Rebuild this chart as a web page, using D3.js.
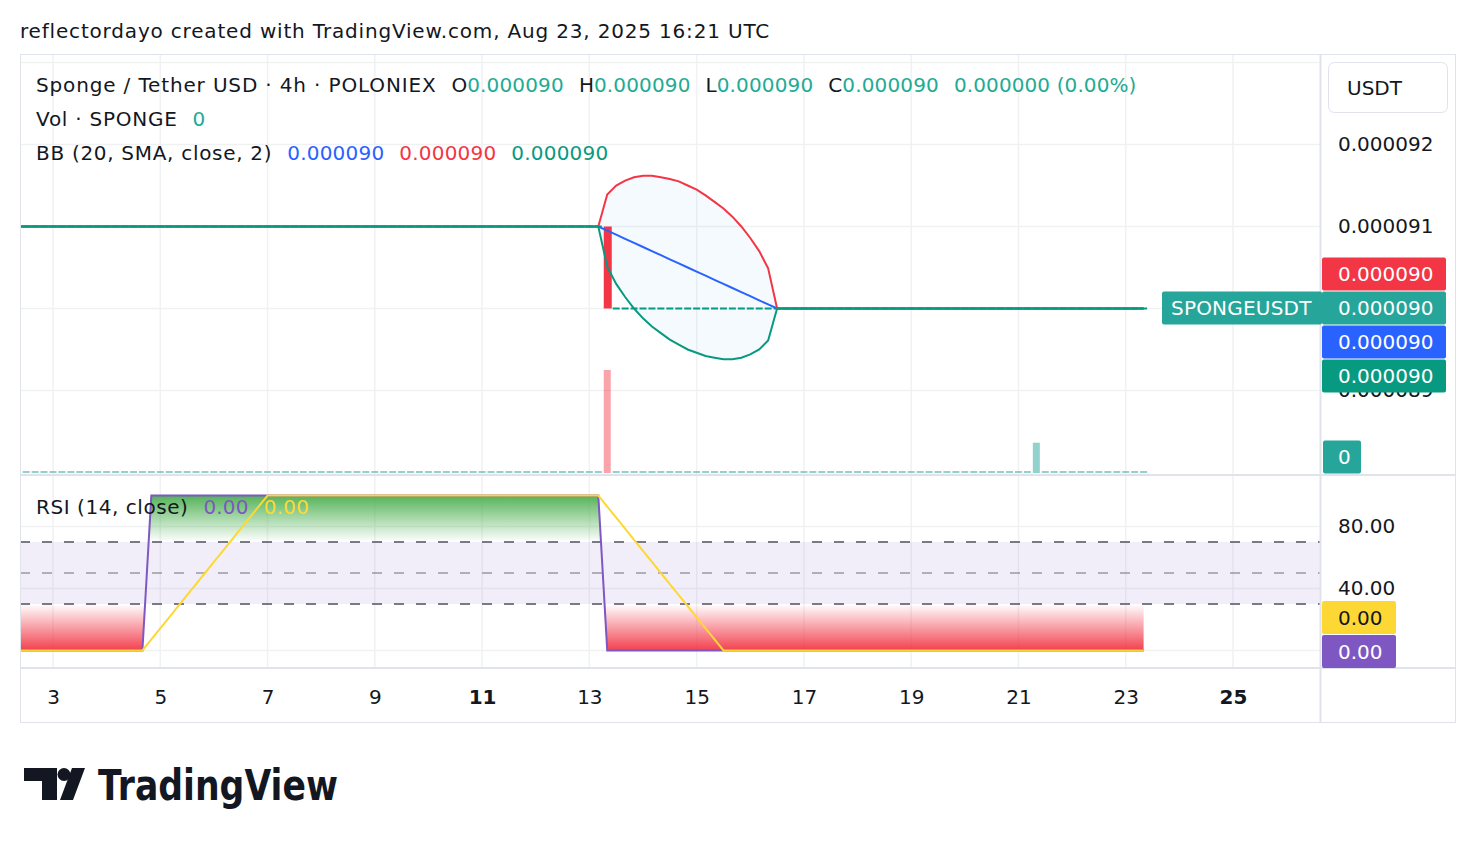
<!DOCTYPE html>
<html><head><meta charset="utf-8">
<script src="https://cdn.jsdelivr.net/npm/d3@7"></script>
<style>
body{margin:0;background:#fff}
svg{display:block}
text{font-family:"DejaVu Sans",sans-serif;}
</style>
</head><body>
<svg id="c" width="1476" height="844"></svg>
<script>
// ---------------- DATA ----------------
// 4h bars from 2025-08-02 00:00 UTC to 2025-08-23 08:00 UTC (129 bars)
const barStart = "2025-08-02T00:00:00Z";
const barEndExclusive = "2025-08-23T12:00:00Z";
const PRICE_UNIT = 1e-6; // prices below are in micro-USDT

// open prices, one row per day (6 bars / day)
const openPx = [
  91,91,91,91,91,91, // Aug 2
  91,91,91,91,91,91, // Aug 3
  91,91,91,91,91,91, // Aug 4
  91,91,91,91,91,91, // Aug 5
  91,91,91,91,91,91, // Aug 6
  91,91,91,91,91,91, // Aug 7
  91,91,91,91,91,91, // Aug 8
  91,91,91,91,91,91, // Aug 9
  91,91,91,91,91,91, // Aug 10
  91,91,91,91,91,91, // Aug 11
  91,91,91,91,91,91, // Aug 12
  91,91,91,90,90,90, // Aug 13
  90,90,90,90,90,90, // Aug 14
  90,90,90,90,90,90, // Aug 15
  90,90,90,90,90,90, // Aug 16
  90,90,90,90,90,90, // Aug 17
  90,90,90,90,90,90, // Aug 18
  90,90,90,90,90,90, // Aug 19
  90,90,90,90,90,90, // Aug 20
  90,90,90,90,90,90, // Aug 21
  90,90,90,90,90,90, // Aug 22
  90,90,90           // Aug 23
];
const closePx = [
  91,91,91,91,91,91, // Aug 2
  91,91,91,91,91,91, // Aug 3
  91,91,91,91,91,91, // Aug 4
  91,91,91,91,91,91, // Aug 5
  91,91,91,91,91,91, // Aug 6
  91,91,91,91,91,91, // Aug 7
  91,91,91,91,91,91, // Aug 8
  91,91,91,91,91,91, // Aug 9
  91,91,91,91,91,91, // Aug 10
  91,91,91,91,91,91, // Aug 11
  91,91,91,91,91,91, // Aug 12
  91,91,90,90,90,90, // Aug 13
  90,90,90,90,90,90, // Aug 14
  90,90,90,90,90,90, // Aug 15
  90,90,90,90,90,90, // Aug 16
  90,90,90,90,90,90, // Aug 17
  90,90,90,90,90,90, // Aug 18
  90,90,90,90,90,90, // Aug 19
  90,90,90,90,90,90, // Aug 20
  90,90,90,90,90,90, // Aug 21
  90,90,90,90,90,90, // Aug 22
  90,90,90           // Aug 23
];
const volume = [
  0,0,0,0,0,0, 0,0,0,0,0,0, 0,0,0,0,0,0, 0,0,0,0,0,0, 0,0,0,0,0,0, 0,0,0,0,0,0,
  0,0,0,0,0,0, 0,0,0,0,0,0, 0,0,0,0,0,0, 0,0,0,0,0,0, 0,0,0,0,0,0,
  0,0,3400,0,0,0, // Aug 13
  0,0,0,0,0,0, 0,0,0,0,0,0, 0,0,0,0,0,0, 0,0,0,0,0,0, 0,0,0,0,0,0, 0,0,0,0,0,0, 0,0,0,0,0,0,
  0,0,1000,0,0,0, // Aug 21
  0,0,0,0,0,0,    // Aug 22
  0,0,0           // Aug 23
];
const bbUpper = [
  91,91,91,91,91,91, 91,91,91,91,91,91, 91,91,91,91,91,91, 91,91,91,91,91,91,
  91,91,91,91,91,91, 91,91,91,91,91,91, 91,91,91,91,91,91, 91,91,91,91,91,91,
  91,91,91,91,91,91, 91,91,91,91,91,91, 91,91,91,91,91,91,
  91,91,91.39,91.5,91.56,91.6,        // Aug 13
  91.62,91.62,91.6,91.58,91.55,91.5,  // Aug 14
  91.45,91.38,91.3,91.22,91.12,91.0,  // Aug 15
  90.86,90.7,90.49,90,90,90,          // Aug 16
  90,90,90,90,90,90, 90,90,90,90,90,90, 90,90,90,90,90,90,
  90,90,90,90,90,90, 90,90,90,90,90,90, 90,90,90,90,90,90,
  90,90,90
];
const bbBasis = [
  91,91,91,91,91,91, 91,91,91,91,91,91, 91,91,91,91,91,91, 91,91,91,91,91,91,
  91,91,91,91,91,91, 91,91,91,91,91,91, 91,91,91,91,91,91, 91,91,91,91,91,91,
  91,91,91,91,91,91, 91,91,91,91,91,91, 91,91,91,91,91,91,
  91,91,90.95,90.9,90.85,90.8,        // Aug 13
  90.75,90.7,90.65,90.6,90.55,90.5,   // Aug 14
  90.45,90.4,90.35,90.3,90.25,90.2,   // Aug 15
  90.15,90.1,90.05,90,90,90,          // Aug 16
  90,90,90,90,90,90, 90,90,90,90,90,90, 90,90,90,90,90,90,
  90,90,90,90,90,90, 90,90,90,90,90,90, 90,90,90,90,90,90,
  90,90,90
];
const bbLower = [
  91,91,91,91,91,91, 91,91,91,91,91,91, 91,91,91,91,91,91, 91,91,91,91,91,91,
  91,91,91,91,91,91, 91,91,91,91,91,91, 91,91,91,91,91,91, 91,91,91,91,91,91,
  91,91,91,91,91,91, 91,91,91,91,91,91, 91,91,91,91,91,91,
  91,91,90.51,90.3,90.14,90.0,        // Aug 13
  89.88,89.78,89.7,89.62,89.56,89.5,  // Aug 14
  89.46,89.42,89.4,89.38,89.38,89.4,  // Aug 15
  89.44,89.5,89.61,90,90,90,          // Aug 16
  90,90,90,90,90,90, 90,90,90,90,90,90, 90,90,90,90,90,90,
  90,90,90,90,90,90, 90,90,90,90,90,90, 90,90,90,90,90,90,
  90,90,90
];
const rsi = [
  0,0,0,0,0,0,        // Aug 2
  0,0,0,0,0,0,        // Aug 3
  0,0,0,0,0,100,      // Aug 4
  100,100,100,100,100,100, 100,100,100,100,100,100, 100,100,100,100,100,100,
  100,100,100,100,100,100, 100,100,100,100,100,100, 100,100,100,100,100,100,
  100,100,100,100,100,100, 100,100,100,100,100,100, // Aug 5 - Aug 12
  100,100,0,0,0,0,    // Aug 13
  0,0,0,0,0,0, 0,0,0,0,0,0, 0,0,0,0,0,0, 0,0,0,0,0,0, 0,0,0,0,0,0,
  0,0,0,0,0,0, 0,0,0,0,0,0, 0,0,0,0,0,0, 0,0,0,0,0,0, // Aug 14 - Aug 22
  0,0,0               // Aug 23
];
const rsiMa = [
  0,0,0,0,0,0,                            // Aug 2
  0,0,0,0,0,0,                            // Aug 3
  0,0,0,0,0,7.14,                         // Aug 4
  14.29,21.43,28.57,35.71,42.86,50,       // Aug 5
  57.14,64.29,71.43,78.57,85.71,92.86,    // Aug 6
  100,100,100,100,100,100, 100,100,100,100,100,100, 100,100,100,100,100,100,
  100,100,100,100,100,100, 100,100,100,100,100,100, 100,100,100,100,100,100, // Aug 7 - 12
  100,100,92.86,85.71,78.57,71.43,        // Aug 13
  64.29,57.14,50,42.86,35.71,28.57,       // Aug 14
  21.43,14.29,7.14,0,0,0,                 // Aug 15
  0,0,0,0,0,0, 0,0,0,0,0,0, 0,0,0,0,0,0, 0,0,0,0,0,0,
  0,0,0,0,0,0, 0,0,0,0,0,0, 0,0,0,0,0,0, // Aug 16 - 22
  0,0,0                                   // Aug 23
];

const priceGridTicks = [89, 90, 91, 92, 93];
const priceLabelTicks = [89, 90, 91, 92];
const rsiTicks = [0, 40, 80];
const rsiLevels = {upper: 70, middle: 50, lower: 30};
const dayTicks = [3, 5, 7, 9, 11, 13, 15, 17, 19, 21, 23, 25];
const boldDays = [11, 25];

const headerText = "reflectordayo created with TradingView.com, Aug 23, 2025 16:21 UTC";
const symbolTitle = "Sponge / Tether USD · 4h · POLONIEX";
const ohlcLabels = ["O", "H", "L", "C"];
const ohlcValues = ["0.000090", "0.000090", "0.000090", "0.000090"];
const changeText = "0.000000 (0.00%)";
const volTitle = "Vol · SPONGE";
const volValue = "0";
const bbTitle = "BB (20, SMA, close, 2)";
const bbValues = ["0.000090", "0.000090", "0.000090"];
const rsiTitle = "RSI (14, close)";
const rsiValues = ["0.00", "0.00"];
const symbolTag = "SPONGEUSDT";
const currency = "USDT";

// ---------------- LAYOUT ----------------
const svg = d3.select("#c");
const L = 20, R = 1320, OUTR = 1456;
const MAIN_T = 54, MAIN_B = 474, RSI_T = 475, RSI_B = 668, TAX_B = 722;
const TXT = "#131722";
const C_TEAL = "#089981", C_TEAL2 = "#22AB94", C_TAG = "#26A69A";
const C_RED = "#F23645", C_BLUE = "#2962FF", C_PURPLE = "#7E57C2", C_YEL = "#FDD835";
const GRID = "#f0f1f3", BORDER = "#e0e3eb";
const FS = 20;
const LS = 0.75; // letter spacing for word labels

const times = d3.utcHour.every(4).range(new Date(barStart), new Date(barEndExclusive));
const bars = times.map((t, i) => ({t, o: openPx[i], c: closePx[i], v: volume[i],
  up: bbUpper[i], mid: bbBasis[i], lo: bbLower[i], rsi: rsi[i], ma: rsiMa[i]}));

const x = d3.scaleUtc()
  .domain([new Date("2025-08-03T00:00:00Z"), new Date("2025-08-25T00:00:00Z")])
  .range([53, 1233]);
const yP = d3.scaleLinear().domain([88, 93]).range([472.5, 62.5]);
const yV = d3.scaleLinear().domain([0, 3400]).range([473, 370]);
const yR = d3.scaleLinear().domain([0, 100]).range([650.5, 495.5]);
const dayDates = dayTicks.map(d => new Date(Date.UTC(2025, 7, d)));
const fmtPrice = v => (v * PRICE_UNIT).toFixed(6);

const defs = svg.append("defs");
defs.append("clipPath").attr("id", "clipMain").append("rect")
  .attr("x", L).attr("y", MAIN_T + 1).attr("width", R - L).attr("height", MAIN_B - MAIN_T - 1);
defs.append("clipPath").attr("id", "clipRsi").append("rect")
  .attr("x", L).attr("y", RSI_T + 1).attr("width", R - L).attr("height", RSI_B - RSI_T - 1);

// header
svg.append("text").attr("x", 20).attr("y", 31).attr("dy", "0.35em")
  .attr("font-size", FS).attr("fill", TXT).attr("letter-spacing", 0.82).text(headerText);

// ---------------- GRID ----------------
const grid = svg.append("g");
dayDates.forEach(d => {
  grid.append("line").attr("x1", x(d)).attr("x2", x(d)).attr("y1", MAIN_T).attr("y2", RSI_B)
    .attr("stroke", GRID).attr("stroke-width", 1.5);
});
priceGridTicks.forEach(v => {
  grid.append("line").attr("x1", L).attr("x2", R).attr("y1", yP(v)).attr("y2", yP(v))
    .attr("stroke", GRID).attr("stroke-width", 1.5);
});
rsiTicks.forEach(v => {
  grid.append("line").attr("x1", L).attr("x2", R).attr("y1", yR(v)).attr("y2", yR(v))
    .attr("stroke", GRID).attr("stroke-width", 1.5);
});

// ---------------- MAIN PANE ----------------
const main = svg.append("g").attr("clip-path", "url(#clipMain)");
const BW = 7;
// volume
main.append("g").selectAll("rect").data(bars).join("rect")
  .attr("x", d => x(d.t) - BW / 2)
  .attr("width", BW)
  .attr("y", d => d.v === 0 ? yV(0) - 2 : yV(d.v))
  .attr("height", d => d.v === 0 ? 2 : yV(0) - yV(d.v))
  .attr("fill", d => d.c < d.o ? "rgba(242,54,69,0.45)" : "rgba(38,166,154,0.5)");
// BB fill
main.append("path").datum(bars)
  .attr("d", d3.area().x(d => x(d.t)).y0(d => yP(d.lo)).y1(d => yP(d.up)))
  .attr("fill", "rgba(33,150,243,0.05)");
// candles
main.append("g").selectAll("rect").data(bars).join("rect")
  .attr("x", d => x(d.t) - BW / 2)
  .attr("width", d => d.o === d.c ? BW : BW + 1)
  .attr("y", d => d.o === d.c ? yP(d.c) - 1 : yP(Math.max(d.o, d.c)))
  .attr("height", d => d.o === d.c ? 2 : Math.abs(yP(d.o) - yP(d.c)))
  .attr("fill", d => d.c < d.o ? C_RED : C_TEAL);
// BB lines
const bbLine = key => d3.line().x(d => x(d.t)).y(d => yP(d[key]));
main.append("path").datum(bars).attr("d", bbLine("mid")).attr("fill", "none").attr("stroke", C_BLUE).attr("stroke-width", 2);
main.append("path").datum(bars).attr("d", bbLine("up")).attr("fill", "none").attr("stroke", C_RED).attr("stroke-width", 2);
main.append("path").datum(bars).attr("d", bbLine("lo")).attr("fill", "none").attr("stroke", C_TEAL).attr("stroke-width", 2);

// ---------------- RSI PANE ----------------
const rp = svg.append("g").attr("clip-path", "url(#clipRsi)");
rp.append("rect").attr("x", L).attr("width", R - L)
  .attr("y", yR(rsiLevels.upper)).attr("height", yR(rsiLevels.lower) - yR(rsiLevels.upper))
  .attr("fill", "rgba(126,87,194,0.1)");

const gG = defs.append("linearGradient").attr("id", "gGreen").attr("x1", 0).attr("x2", 0).attr("y1", 0).attr("y2", 1);
gG.append("stop").attr("offset", "0%").attr("stop-color", "#4caf50").attr("stop-opacity", 0.95);
gG.append("stop").attr("offset", "100%").attr("stop-color", "#4caf50").attr("stop-opacity", 0);
const gR = defs.append("linearGradient").attr("id", "gRed").attr("x1", 0).attr("x2", 0).attr("y1", 0).attr("y2", 1);
gR.append("stop").attr("offset", "0%").attr("stop-color", "#f23645").attr("stop-opacity", 0);
gR.append("stop").attr("offset", "100%").attr("stop-color", "#f23645").attr("stop-opacity", 0.95);

defs.append("clipPath").attr("id", "clipBelowRsi").append("path").datum(bars)
  .attr("d", d3.area().x(d => x(d.t)).y0(yR(0)).y1(d => yR(d.rsi)));
defs.append("clipPath").attr("id", "clipAboveRsi").append("path").datum(bars)
  .attr("d", d3.area().x(d => x(d.t)).y0(yR(100)).y1(d => yR(d.rsi)));

rp.append("g").attr("clip-path", "url(#clipBelowRsi)").append("rect")
  .attr("x", L).attr("width", R - L).attr("y", yR(100)).attr("height", yR(rsiLevels.upper) - yR(100))
  .attr("fill", "url(#gGreen)");
rp.append("g").attr("clip-path", "url(#clipAboveRsi)").append("rect")
  .attr("x", L).attr("width", R - L).attr("y", yR(rsiLevels.lower)).attr("height", yR(0) - yR(rsiLevels.lower))
  .attr("fill", "url(#gRed)");

[[rsiLevels.upper, "#787b86"], [rsiLevels.middle, "rgba(120,123,134,0.55)"], [rsiLevels.lower, "#787b86"]].forEach(([v, col]) => {
  rp.append("line").attr("x1", L).attr("x2", R).attr("y1", yR(v)).attr("y2", yR(v))
    .attr("stroke", col).attr("stroke-width", 2).attr("stroke-dasharray", "10,12");
});

rp.append("path").datum(bars).attr("d", d3.line().x(d => x(d.t)).y(d => yR(d.rsi)))
  .attr("fill", "none").attr("stroke", C_PURPLE).attr("stroke-width", 2);
rp.append("path").datum(bars).attr("d", d3.line().x(d => x(d.t)).y(d => yR(d.ma)))
  .attr("fill", "none").attr("stroke", C_YEL).attr("stroke-width", 2);

// ---------------- LEGENDS ----------------
function legendLine(y, parts) {
  const t = svg.append("text").attr("x", 36).attr("y", y).attr("dy", "0.35em").attr("font-size", FS);
  parts.forEach(([s, col, dx, ls]) => {
    const ts = t.append("tspan").attr("fill", col).text(s);
    if (dx) ts.attr("dx", dx);
    ts.attr("letter-spacing", ls || 0);
  });
}
const l1 = [[symbolTitle, TXT, 0, 0.85]];
ohlcLabels.forEach((lab, i) => { l1.push([lab, TXT, 15, 0]); l1.push([ohlcValues[i], C_TEAL2, 0, 0.15]); });
l1.push([changeText, C_TEAL2, 15, 0.1]);
legendLine(85, l1);
legendLine(119, [[volTitle, TXT, 0, LS], [volValue, C_TEAL2, 15, 0]]);
legendLine(153, [[bbTitle, TXT, 0, 0.7], [bbValues[0], C_BLUE, 15, 0.2], [bbValues[1], C_RED, 15, 0.2], [bbValues[2], C_TEAL, 15, 0.2]]);
legendLine(507, [[rsiTitle, TXT, 0, 0.55], [rsiValues[0], C_PURPLE, 15, 0.2], [rsiValues[1], C_YEL, 15, 0.2]]);

// ---------------- AXES ----------------
const pAxis = svg.append("g").attr("transform", `translate(${R},0)`)
  .call(d3.axisRight(yP).tickValues(priceLabelTicks).tickSize(0).tickPadding(18).tickFormat(fmtPrice));
pAxis.select(".domain").remove();
pAxis.selectAll("text").attr("font-size", FS).attr("fill", TXT).attr("font-family", "DejaVu Sans");

const rAxis = svg.append("g").attr("transform", `translate(${R},0)`)
  .call(d3.axisRight(yR).tickValues(rsiTicks).tickSize(0).tickPadding(18).tickFormat(d3.format(".2f")));
rAxis.select(".domain").remove();
rAxis.selectAll("text").attr("font-size", FS).attr("fill", TXT).attr("font-family", "DejaVu Sans");

const tAxis = svg.append("g").attr("transform", `translate(0,${RSI_B})`)
  .call(d3.axisBottom(x).tickValues(dayDates).tickSize(0).tickPadding(22).tickFormat(d3.utcFormat("%-d")));
tAxis.select(".domain").remove();
tAxis.selectAll("text").attr("font-size", FS).attr("fill", TXT).attr("font-family", "DejaVu Sans")
  .attr("font-weight", d => boldDays.includes(d.getUTCDate()) ? "bold" : "normal");

// ---------------- BORDERS ----------------
const b = svg.append("g").attr("stroke", BORDER).attr("fill", "none");
b.append("rect").attr("x", L + 0.5).attr("y", MAIN_T + 0.5).attr("width", OUTR - L - 1).attr("height", TAX_B - MAIN_T);
b.append("line").attr("x1", R + 0.5).attr("x2", R + 0.5).attr("y1", MAIN_T).attr("y2", TAX_B).attr("stroke-width", 2);
b.append("line").attr("x1", L).attr("x2", OUTR).attr("y1", MAIN_B + 1).attr("y2", MAIN_B + 1).attr("stroke-width", 2);
b.append("line").attr("x1", L).attr("x2", OUTR).attr("y1", RSI_B).attr("y2", RSI_B).attr("stroke-width", 2);

// ---------------- TAGS ----------------
function tag(x0, yc, w, fill, txt, tcol, tx, ls) {
  svg.append("rect").attr("x", x0).attr("y", yc - 16.5).attr("width", w).attr("height", 33)
    .attr("rx", 2).attr("fill", fill);
  svg.append("text").attr("x", tx).attr("y", yc).attr("dy", "0.35em").attr("font-size", FS)
    .attr("letter-spacing", ls || 0).attr("fill", tcol).text(txt);
}
// USDT button
svg.append("rect").attr("x", 1328.5).attr("y", 62.5).attr("width", 119).attr("height", 50).attr("rx", 6)
  .attr("fill", "#fff").attr("stroke", BORDER);
svg.append("text").attr("x", 1347).attr("y", 88).attr("dy", "0.35em").attr("font-size", FS).attr("fill", TXT).text(currency);

const lastBar = bars[bars.length - 1];
const yLast = Math.floor(yP(lastBar.c));
tag(1322, yLast - 34, 124, C_RED, fmtPrice(lastBar.up), "#fff", 1338);
tag(1322, yLast, 124, C_TAG, fmtPrice(lastBar.c), "#fff", 1338);
tag(1162, yLast, 160, C_TAG, symbolTag, "#fff", 1171, 0.2);
tag(1322, yLast + 34, 124, C_BLUE, fmtPrice(lastBar.mid), "#fff", 1338);
tag(1322, yLast + 68, 124, C_TEAL, fmtPrice(lastBar.lo), "#fff", 1338);
tag(1323, 457, 38, C_TAG, String(lastBar.v), "#fff", 1338);
tag(1322, 617.5, 74, C_YEL, d3.format(".2f")(lastBar.ma), TXT, 1338);
tag(1322, 651.5, 74, C_PURPLE, d3.format(".2f")(lastBar.rsi), "#fff", 1338);

// ---------------- LOGO ----------------
const logo = svg.append("g").attr("fill", TXT);
logo.append("path").attr("d", "M24,768 H57 V800 H42 V781 H24 Z");
logo.append("circle").attr("cx", 64).attr("cy", 774.5).attr("r", 6.5);
logo.append("path").attr("d", "M60,800 L73,800 L85,768 L72,768 Z");
logo.append("text").attr("x", 98).attr("y", 800).attr("font-family", "Inter, 'Noto Sans', sans-serif")
  .attr("font-weight", 600).attr("font-size", 43).attr("textLength", 240).attr("lengthAdjust", "spacingAndGlyphs")
  .text("TradingView");
</script>
</body></html>
